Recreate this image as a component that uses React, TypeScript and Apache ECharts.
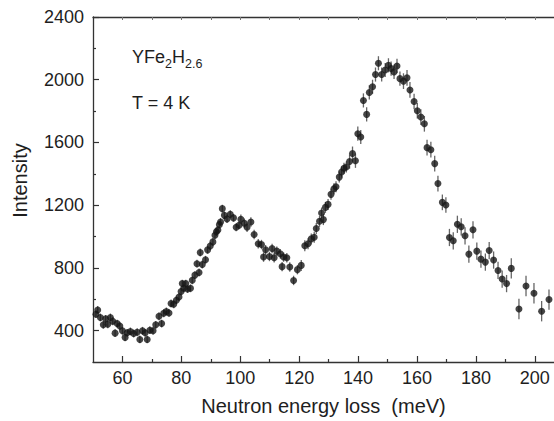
import React, { useEffect, useRef } from "react";
import * as echarts from "echarts";

const energy = [
  51.0, 51.6, 52.5, 53.5, 54.3, 55.0, 55.9, 56.7, 57.5, 58.2,
  59.1, 60.0, 60.9, 61.6, 62.7, 63.8, 65.0, 65.9, 66.8, 67.7,
  68.4, 69.3, 70.4, 71.3, 72.4, 73.3, 74.0, 74.9, 75.8, 76.5,
  77.4, 78.3, 79.2, 79.9, 80.3, 80.8, 81.5, 82.1, 83.1, 83.7,
  84.6, 85.3, 86.0, 86.4, 87.1, 88.2, 88.9, 89.8, 90.7, 91.4,
  91.9, 92.4, 92.9, 93.3, 93.9, 94.6, 95.5, 96.6, 97.7, 98.6,
  99.6, 100.2, 101.4, 102.3, 103.6, 104.7, 106.1, 107.2, 107.9, 108.6,
  109.9, 110.8, 111.5, 112.4, 113.6, 114.2, 114.7, 115.8, 116.8, 118.1,
  119.4, 120.7, 121.9, 123.0, 124.1, 125.1, 125.8, 126.9, 127.6, 128.2,
  128.9, 129.8, 130.8, 131.8, 132.5, 133.6, 134.4, 135.2, 136.0, 137.1,
  138.1, 139.1, 139.9, 140.9, 141.8, 142.9, 143.8, 144.9, 145.9, 146.9,
  148.0, 149.2, 150.3, 151.2, 152.2, 153.2, 154.2, 155.4, 156.6, 157.6,
  159.0, 160.1, 161.3, 162.5, 163.4, 164.7, 166.0, 167.1, 168.6, 169.8,
  171.0, 172.3, 173.7, 175.0, 176.3, 177.6, 179.0, 180.3, 181.7, 183.2,
  184.5, 186.0, 187.5, 188.9, 190.4, 192.0, 194.6, 197.0, 199.7, 202.3,
  204.8,
];

const intensity = [
  505, 532, 484, 437, 475, 441, 484, 460, 384, 445,
  429, 399, 357, 386, 395, 382, 390, 344, 399, 386,
  344, 403, 399, 437, 492, 445, 511, 522, 513, 573,
  568, 594, 615, 649, 700, 670, 700, 665, 670, 721,
  754, 827, 771, 898, 822, 852, 915, 940, 966, 1008,
  1030, 1042, 1076, 1093, 1178, 1135, 1112, 1142, 1119, 1059,
  1072, 1110, 1085, 1059, 1093, 1013, 954, 949, 869, 916,
  873, 924, 865, 907, 890, 808, 869, 865, 806, 720,
  789, 816, 941, 954, 985, 996, 1051, 1097, 1150, 1108,
  1186, 1205, 1269, 1305, 1318, 1379, 1411, 1436, 1443, 1478,
  1529, 1483, 1656, 1635, 1868, 1779, 1919, 1955, 2033, 2105,
  2033, 2062, 2092, 2071, 2050, 2088, 2007, 1991, 2012, 1935,
  1861, 1802, 1762, 1719, 1567, 1554, 1465, 1338, 1218, 1201,
  994, 973, 1078, 1062, 1005, 888, 1043, 907, 856, 837,
  911, 850, 784, 729, 700, 797, 538, 685, 638, 524,
  598,
];

const errorBar = [
  25, 25, 25, 25, 25, 25, 25, 25, 25, 25,
  25, 25, 25, 25, 25, 25, 25, 25, 25, 25,
  25, 25, 25, 25, 25, 25, 25, 25, 25, 25,
  25, 25, 25, 25, 25, 25, 25, 25, 25, 25,
  25, 25, 25, 25, 25, 25, 25, 25, 25, 25,
  25, 25, 25, 25, 25, 25, 25, 25, 25, 25,
  25, 30, 30, 30, 30, 30, 30, 30, 30, 30,
  30, 30, 30, 30, 30, 30, 30, 30, 30, 30,
  30, 35, 35, 35, 35, 35, 35, 35, 35, 35,
  35, 35, 35, 35, 35, 35, 35, 35, 35, 45,
  45, 45, 45, 45, 45, 45, 45, 45, 45, 45,
  45, 45, 45, 45, 45, 45, 45, 50, 50, 50,
  50, 50, 50, 50, 50, 50, 50, 50, 50, 50,
  55, 55, 55, 55, 55, 55, 55, 55, 55, 55,
  55, 55, 55, 55, 55, 65, 65, 65, 65, 65,
  65,
];

const xMajorTicks = [60, 80, 100, 120, 140, 160, 180, 200];
const xMinorTicks = [70, 90, 110, 130, 150, 170, 190];
const xTopTicks = [60, 70, 80, 90, 100, 110, 120, 130, 140, 150, 160, 170, 180, 190, 200];
const yMajorTicks = [400, 800, 1200, 1600, 2000, 2400];
const yMinorTicks = [600, 1000, 1400, 1800, 2200];

const X_MIN = 50;
const X_MAX = 206.5;
const Y_MIN = 200;
const Y_MAX = 2400;

const FONT = "'Liberation Sans', Arial, Helvetica, sans-serif";
const AXIS_COLOR = "#333";
const TEXT_COLOR = "#1e1e1e";

export default function App() {
  const ref = useRef<HTMLDivElement>(null);

  useEffect(() => {
    if (!ref.current) return;
    const chart = echarts.init(ref.current, null, { renderer: "svg" });
    const points = energy.map((e, i) => [e, intensity[i], errorBar[i]]);

    const baseX = {
      type: "value",
      min: X_MIN,
      max: X_MAX,
      splitLine: { show: false },
    };
    const baseY = {
      type: "value",
      min: Y_MIN,
      max: Y_MAX,
      splitLine: { show: false },
    };

    chart.setOption({
      animation: false,
      backgroundColor: "#fff",
      grid: { left: 93, right: 0, top: 17, bottom: 57, containLabel: false },
      xAxis: [
        {
          ...baseX,
          position: "bottom",
          axisLine: { show: true, lineStyle: { color: AXIS_COLOR, width: 1.3 } },
          axisTick: {
            show: true,
            inside: true,
            length: 6,
            customValues: xMajorTicks,
            lineStyle: { color: AXIS_COLOR, width: 1.2 },
          },
          axisLabel: {
            show: true,
            customValues: xMajorTicks,
            formatter: (v: number) => String(v),
            fontSize: 18,
            fontFamily: FONT,
            color: TEXT_COLOR,
            margin: 7,
          },
          name: "Neutron energy loss  (meV)",
          nameLocation: "middle",
          nameGap: 34,
          nameTextStyle: { fontSize: 20, fontFamily: FONT, color: TEXT_COLOR },
        },
        {
          ...baseX,
          position: "bottom",
          axisLine: { show: false },
          axisTick: {
            show: true,
            inside: true,
            length: 3,
            customValues: xMinorTicks,
            lineStyle: { color: AXIS_COLOR, width: 1.2 },
          },
          axisLabel: { show: false },
        },
        {
          ...baseX,
          position: "top",
          axisLine: { show: true, lineStyle: { color: AXIS_COLOR, width: 1.3 } },
          axisTick: {
            show: true,
            inside: true,
            length: 3,
            customValues: xTopTicks,
            lineStyle: { color: "#777", width: 1 },
          },
          axisLabel: { show: false },
        },
      ],
      yAxis: [
        {
          ...baseY,
          position: "left",
          axisLine: { show: true, lineStyle: { color: AXIS_COLOR, width: 1.3 } },
          axisTick: {
            show: true,
            inside: true,
            length: 6,
            customValues: yMajorTicks,
            lineStyle: { color: AXIS_COLOR, width: 1.2 },
          },
          axisLabel: {
            show: true,
            customValues: yMajorTicks,
            formatter: (v: number) => String(v),
            fontSize: 18,
            fontFamily: FONT,
            color: TEXT_COLOR,
            margin: 9,
          },
          name: "Intensity",
          nameLocation: "middle",
          nameGap: 63,
          nameTextStyle: {
            fontSize: 20,
            fontFamily: FONT,
            color: TEXT_COLOR,
            padding: [0, 0, 0, 18],
          },
        },
        {
          ...baseY,
          position: "left",
          axisLine: { show: false },
          axisTick: {
            show: true,
            inside: true,
            length: 3,
            customValues: yMinorTicks,
            lineStyle: { color: AXIS_COLOR, width: 1.2 },
          },
          axisLabel: { show: false },
        },
      ],
      graphic: [
        {
          type: "text",
          left: 132,
          top: 48,
          style: {
            text: "{a|YFe}{s|2}{a|H}{s|2.6}",
            fontFamily: FONT,
            fill: TEXT_COLOR,
            rich: {
              a: { fontSize: 18, fontFamily: FONT, color: TEXT_COLOR, lineHeight: 22, verticalAlign: "bottom" },
              s: { fontSize: 12.5, fontFamily: FONT, color: TEXT_COLOR, lineHeight: 22, verticalAlign: "bottom", padding: [0, 0, -4, 0] },
            },
          },
        },
        {
          type: "text",
          left: 132,
          top: 94,
          style: {
            text: "T = 4 K",
            fontSize: 18,
            fontFamily: FONT,
            fill: TEXT_COLOR,
          },
        },
      ],
      series: [
        {
          type: "custom",
          xAxisIndex: 0,
          yAxisIndex: 0,
          data: points,
          encode: { x: 0, y: 1 },
          clip: true,
          renderItem: (params: any, api: any) => {
            const x = api.value(0);
            const y = api.value(1);
            const e = api.value(2);
            const top = api.coord([x, y + e]);
            const bot = api.coord([x, y - e]);
            return {
              type: "line",
              shape: { x1: top[0], y1: top[1], x2: bot[0], y2: bot[1] },
              style: { stroke: "#666", lineWidth: 1.3 },
            };
          },
          z: 2,
        },
        {
          type: "scatter",
          xAxisIndex: 0,
          yAxisIndex: 0,
          data: energy.map((e, i) => [e, intensity[i]]),
          symbol: "circle",
          symbolSize: 7,
          itemStyle: { color: "#161616" },
          z: 3,
        },
      ],
    });

    return () => chart.dispose();
  }, []);

  return (
    <div
      ref={ref}
      style={{ position: "absolute", left: 0, top: 0, width: 554, height: 421 }}
    />
  );
}
